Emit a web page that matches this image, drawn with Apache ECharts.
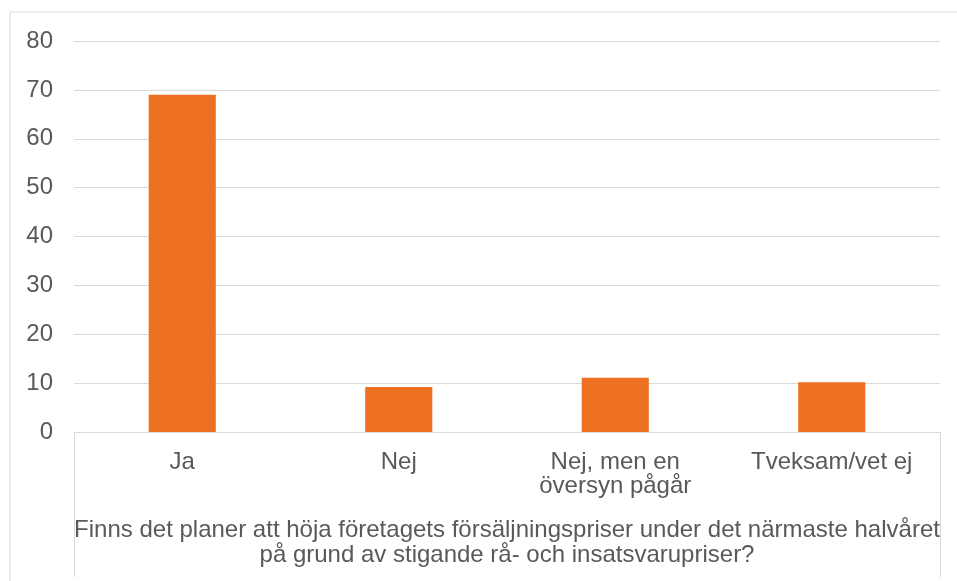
<!DOCTYPE html>
<html>
<head>
<meta charset="utf-8">
<script src="https://cdn.jsdelivr.net/npm/echarts@6/dist/echarts.min.js"></script>
<style>
  html, body { margin: 0; padding: 0; background: #fff; }
  #chart { width: 957px; height: 581px; }
</style>
</head>
<body>
<div id="chart"></div>
<script>
// svarsalternativ och andel (%)
const categories = ['Ja', 'Nej', 'Nej, men en\növersyn pågår', 'Tveksam/vet ej'];
const values = [69.0, 9.2, 11.1, 10.2];
const question = 'Finns det planer att höja företagets försäljningspriser under det närmaste halvåret\npå grund av stigande rå- och insatsvarupriser?';

const textColor = '#595959';
const font = 'Liberation Sans, Arial, sans-serif';

const chart = echarts.init(document.getElementById('chart'));
chart.setOption({
  animation: false,
  backgroundColor: '#fff',
  grid: { left: 74, right: 17, top: 41, bottom: 149 },
  // ram runt diagrammet
  graphic: [{
    type: 'rect',
    shape: { x: 10, y: 12, width: 1000, height: 1000 },
    style: { fill: 'none', stroke: '#d9d9d9', lineWidth: 1 },
    silent: true
  }],
  xAxis: [
    {
      type: 'category',
      data: categories,
      axisLine: { lineStyle: { color: '#d9d9d9', width: 1 } },
      axisTick: { show: false },
      axisLabel: { color: textColor, fontFamily: font, fontSize: 24, lineHeight: 24, margin: 18 }
    },
    {
      // yttre nivå: frågan som grupprubrik
      type: 'category',
      position: 'bottom',
      data: [question],
      axisLine: { show: false },
      axisTick: { show: true, length: 145, lineStyle: { color: '#d9d9d9' } },
      axisLabel: { color: textColor, fontFamily: font, fontSize: 24, lineHeight: 25, margin: 86 }
    }
  ],
  yAxis: {
    type: 'value',
    min: 0,
    max: 80,
    interval: 10,
    axisLine: { show: false },
    axisTick: { show: false },
    splitLine: { lineStyle: { color: '#d9d9d9', width: 1 } },
    axisLabel: { color: textColor, fontFamily: font, fontSize: 24, margin: 21 }
  },
  series: [{
    type: 'bar',
    data: values,
    barWidth: '31%',
    itemStyle: { color: '#ee7123' }
  }]
});
</script>
</body>
</html>
